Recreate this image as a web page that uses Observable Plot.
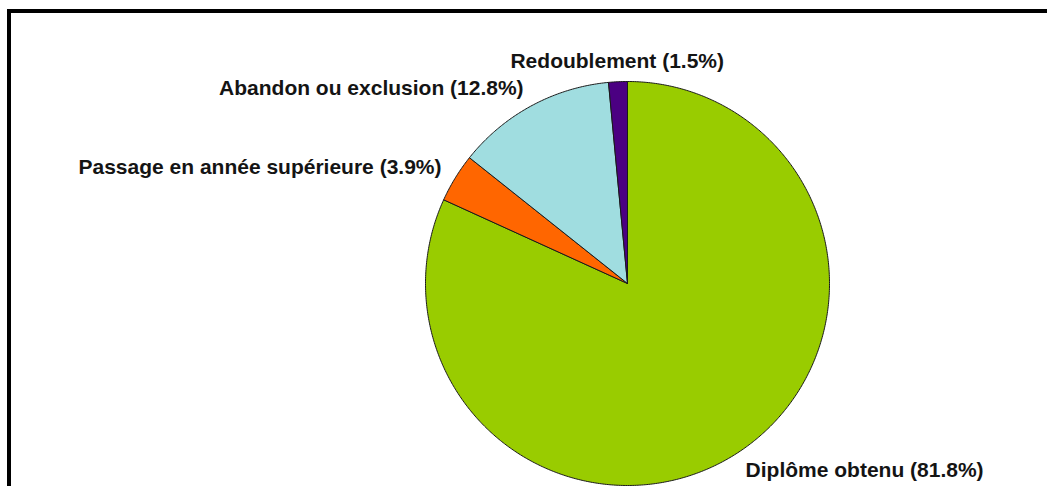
<!DOCTYPE html>
<html>
<head>
<meta charset="utf-8">
<script src="https://cdn.jsdelivr.net/npm/d3@7"></script>
<script src="https://cdn.jsdelivr.net/npm/@observablehq/plot@0.6"></script>
<style>
  html, body { margin: 0; padding: 0; background: #fff; overflow: hidden; width: 1047px; height: 486px; }
  #wrap { position: relative; width: 1047px; height: 486px; overflow: hidden; }
  #frame { position: absolute; left: 7px; top: 9px; width: 1200px; height: 700px; border-left: 4px solid #000; border-top: 4px solid #000; box-sizing: border-box; pointer-events: none; }
  #chart { position: absolute; left: 0; top: 0; }
</style>
</head>
<body>
<div id="wrap">
  <div id="chart"></div>
  <div id="frame"></div>
</div>
<script>
const categories = ["Diplôme obtenu", "Passage en année supérieure", "Abandon ou exclusion", "Redoublement"];
const values = [81.8, 3.9, 12.8, 1.5];
const colors = ["#99CC00", "#FF6600", "#A0DDE0", "#4B0082"];

const pie = d3.pie().sort(null).value(d => d.value);
const arcs = pie(categories.map((c, i) => ({cat: c, value: values[i]})));

// polygon points for each slice (unit circle, angles clockwise from 12 o'clock)
const pts = [];
for (const a of arcs) {
  const n = Math.max(2, Math.ceil((a.endAngle - a.startAngle) / (Math.PI / 360)));
  pts.push({cat: a.data.cat, x: 0, y: 0});
  for (let k = 0; k <= n; k++) {
    const t = a.startAngle + (a.endAngle - a.startAngle) * k / n;
    pts.push({cat: a.data.cat, x: Math.sin(t), y: Math.cos(t)});
  }
  pts.push({cat: a.data.cat, x: 0, y: 0});
}

const labels = arcs.map(a => {
  const m = (a.startAngle + a.endAngle) / 2;
  const sx = Math.sin(m);
  return {
    x: 1.08 * sx,
    y: 1.1 * Math.cos(m),
    text: `${a.data.cat} (${a.data.value}%)`,
    anchor: Math.abs(sx) < 0.1 ? "middle" : (sx < 0 ? "end" : "start")
  };
});

const textOpts = {x: "x", y: "y", text: "text", fontSize: 21, fontWeight: "bold",
  fontFamily: "'Liberation Sans', Arial, sans-serif", fill: "#141414", lineAnchor: "middle"};

const cx = 627, cy = 283, r = 202;
const chart = Plot.plot({
  width: 1047,
  height: 486,
  margin: 0,
  x: {domain: [-1, 1], range: [cx - r, cx + r], axis: null},
  y: {domain: [-1, 1], range: [cy + r, cy - r], axis: null},
  color: {domain: categories, range: colors},
  style: {background: "transparent", overflow: "visible"},
  marks: [
    Plot.line(pts, {x: "x", y: "y", z: "cat", fill: "cat", stroke: "#1a1a1a", strokeWidth: 1, strokeLinejoin: "round", curve: "linear"}),
    Plot.text(labels.filter(d => d.anchor === "start"), {...textOpts, textAnchor: "start"}),
    Plot.text(labels.filter(d => d.anchor === "middle"), {...textOpts, textAnchor: "middle"}),
    Plot.text(labels.filter(d => d.anchor === "end"), {...textOpts, textAnchor: "end"})
  ]
});
document.getElementById("chart").appendChild(chart);
</script>
</body>
</html>
